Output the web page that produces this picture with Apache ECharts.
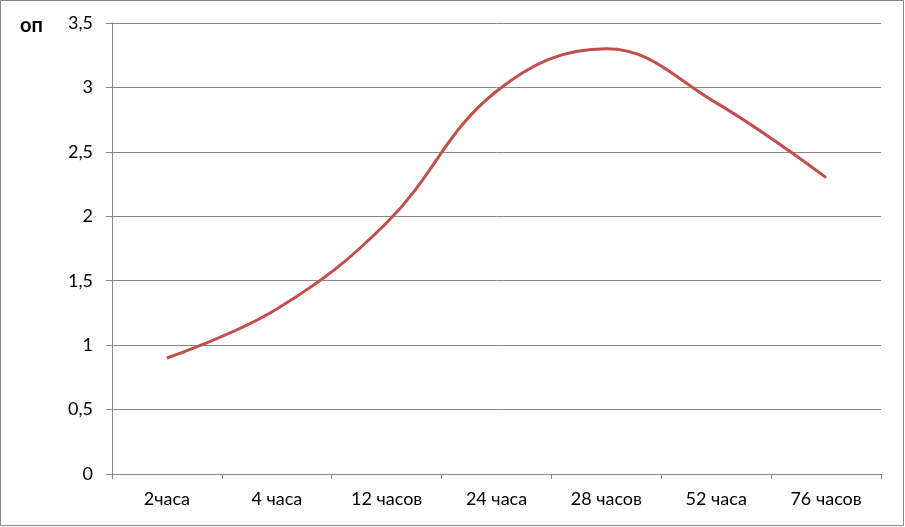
<!DOCTYPE html>
<html>
<head>
<meta charset="utf-8">
<script src="https://cdn.jsdelivr.net/npm/echarts@6/dist/echarts.min.js"></script>
<style>html,body{margin:0;padding:0;background:#fff}#c{width:905px;height:527px}</style>
</head>
<body>
<div id="c"></div>
<script>
const categories = ['2часа', '4 часа', '12 часов', '24 часа', '28 часов', '52 часа', '76 часов'];
const values = [0.9, 1.28, 1.95, 2.97, 3.3, 2.88, 2.3];
const yTitle = 'оп';

const chart = echarts.init(document.getElementById('c'), null, {renderer: 'canvas'});
const gray = '#878787';
const font = 'Lato, "Open Sans", sans-serif';
chart.setOption({
  animation: false,
  backgroundColor: '#fff',
  grid: {left: 112, right: 24, top: 23, bottom: 53},
  graphic: [
    {type: 'rect', shape: {x: 0.5, y: 0.5, width: 903, height: 525}, style: {fill: 'none', stroke: gray, lineWidth: 1}},
    {type: 'text', left: 20, top: 16, style: {text: yTitle, font: 'bold 20px ' + font, fill: '#000'}}
  ],
  xAxis: {
    type: 'category',
    data: categories,
    boundaryGap: true,
    axisLine: {lineStyle: {color: gray, width: 1}},
    axisTick: {show: true, length: 5, lineStyle: {color: gray}},
    axisLabel: {color: '#000', fontSize: 18, fontFamily: font, margin: 16}
  },
  yAxis: {
    type: 'value',
    min: 0, max: 3.5, interval: 0.5,
    axisLine: {show: true, lineStyle: {color: gray, width: 1}},
    axisTick: {show: true, length: 6, lineStyle: {color: gray}},
    splitLine: {lineStyle: {color: gray, width: 1}},
    axisLabel: {color: '#000', fontSize: 18, fontFamily: font, margin: 19,
      formatter: v => String(v).replace('.', ',')}
  },
  series: [{
    type: 'line',
    data: values,
    smooth: 0.4,
    symbol: 'none',
    lineStyle: {color: '#c0504d', width: 3}
  }]
});
</script>
</body>
</html>
